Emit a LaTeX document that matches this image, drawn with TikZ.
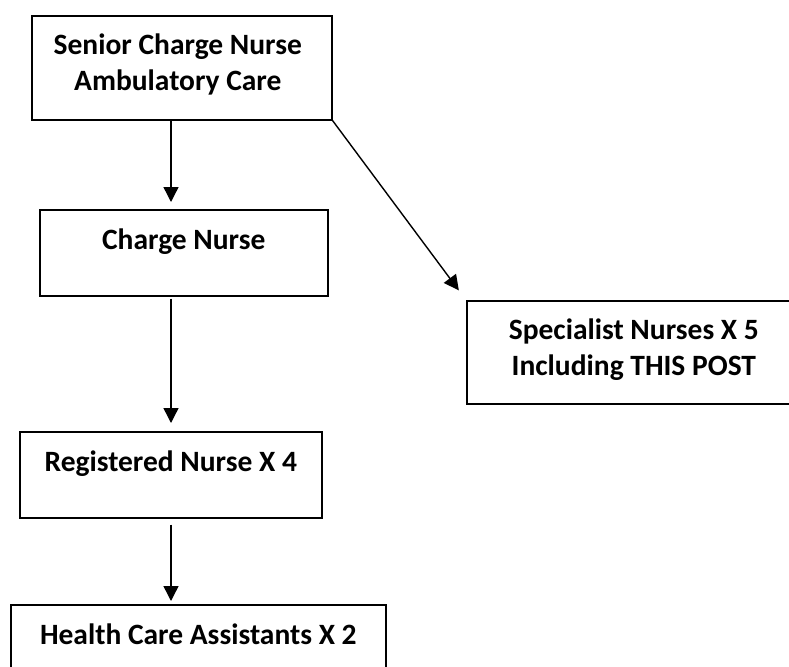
\documentclass[tikz,border=0pt]{standalone}
\usepackage{fontspec}
\setmainfont{Carlito}
\usetikzlibrary{arrows.meta}
\begin{document}
\begin{tikzpicture}[x=1pt, y=-1pt,
  post/.style={draw=black, line width=1.6pt, fill=white, anchor=north west, inner sep=0pt},
  posttext/.style={anchor=north, align=center, inner sep=0pt,
    font=\fontsize{29.5}{36}\selectfont\bfseries},
  link/.style={draw=black, line width=1.4pt, -{Triangle[length=15pt, width=15pt]}}]
  \useasboundingbox (0,0) rectangle (789,666);

  % boxes of the reporting chart
  \node[post, minimum width=300pt, minimum height=104pt] (b1) at (31,15) {};
  \node[post, minimum width=288pt, minimum height=86pt] (b2) at (39,209) {};
  \node[post, minimum width=334pt, minimum height=103pt] (b3) at (466,300) {};
  \node[post, minimum width=302pt, minimum height=86pt] (b4) at (19,431) {};
  \node[post, minimum width=375pt, minimum height=86pt] (b5) at (10,604) {};

  % titles, set near the top edge of each box
  \node[posttext] (t1) at ([xshift=-4pt, yshift=-19pt]b1.north) {Senior Charge Nurse\\Ambulatory Care};
  \node[posttext] (t2) at ([yshift=-20pt]b2.north) {Charge Nurse};
  \node[posttext] (t3) at ([yshift=-19pt]b3.north) {Specialist Nurses X 5\\Including THIS POST};
  \node[posttext] (t4) at ([yshift=-20pt]b4.north) {Registered Nurse X 4};
  \node[posttext] (t5) at ([yshift=-20pt]b5.north) {Health Care Assistants X 2};

  % vertical line of reporting
  \coordinate (spine) at (171,0);
  \draw[link, shorten >=7pt] (b1.south -| spine) -- (b2.north -| spine);
  \draw[link, shorten <=2pt, shorten >=8pt] (b2.south -| spine) -- (b4.north -| spine);
  \draw[link, shorten <=6pt, shorten >=3pt] (b4.south -| spine) -- (b5.north -| spine);
  \draw[link, shorten >=12pt] (b1.south east) -- (b3.north west);
\end{tikzpicture}
\end{document}
